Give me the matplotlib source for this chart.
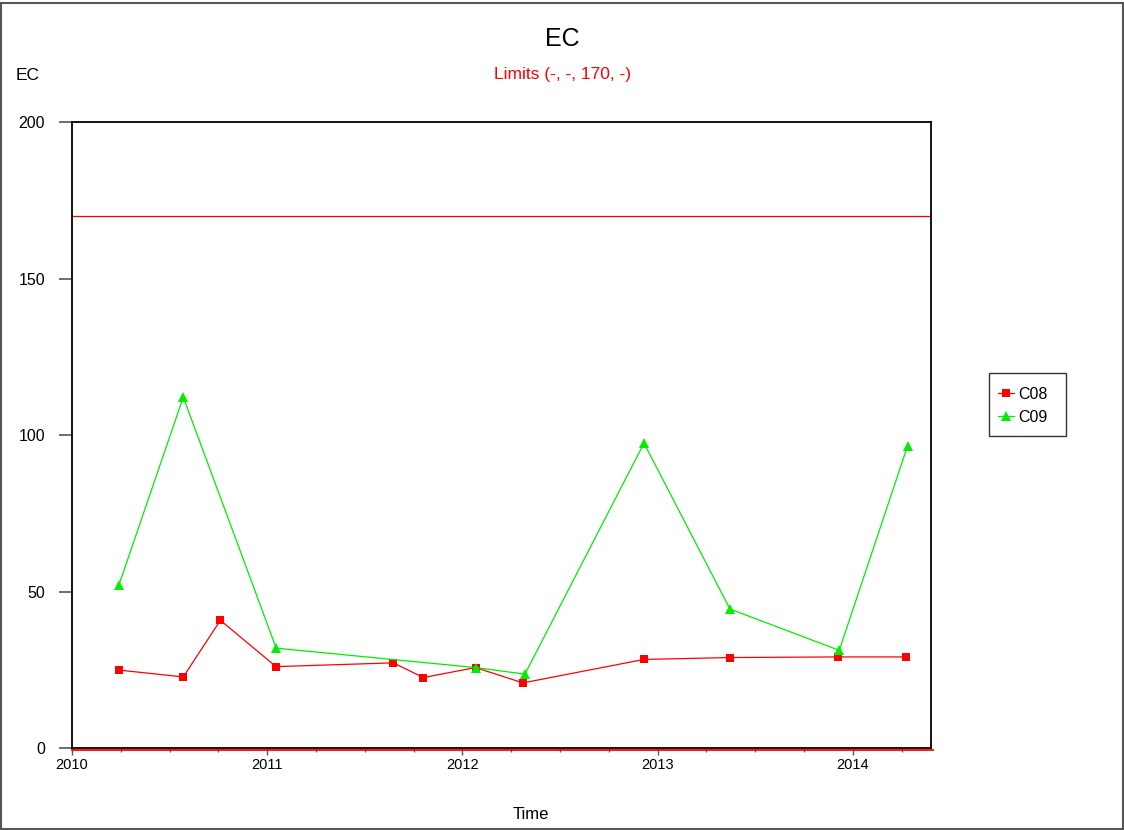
import matplotlib
matplotlib.use('Agg')
import matplotlib.pyplot as plt
from matplotlib.ticker import MultipleLocator
from matplotlib.patches import Rectangle
from matplotlib.transforms import offset_copy

plt.rcParams['font.family'] = ['Liberation Sans', 'DejaVu Sans']

# sample times as decimal years
c08_time = [2010.24, 2010.57, 2010.76, 2011.045, 2011.646, 2011.80,
            2012.067, 2012.31, 2012.93, 2013.37, 2013.925, 2014.27]
c08_ec = [24.9, 22.7, 40.8, 26.0, 27.2, 22.5, 25.7, 20.8, 28.3, 28.9, 29.1, 29.1]

c09_time = [2010.24, 2010.57, 2011.046, 2012.067, 2012.32, 2012.93,
            2013.37, 2013.93, 2014.28]
c09_ec = [52.0, 112.1, 31.9, 25.7, 23.6, 97.4, 44.4, 31.2, 96.5]

limit_value = 170
ytick_values = [0, 50, 100, 150, 200]
xtick_values = [2010, 2011, 2012, 2013, 2014]

W, H = 1124, 830
fig = plt.figure(figsize=(W / 100, H / 100), dpi=100)

def px(x, y):
    return x / W, 1 - y / H

# figure frame
fig.patches.append(Rectangle((0.001, 0.001), 0.998, 0.995, transform=fig.transFigure,
                             fill=False, edgecolor='#555555', linewidth=1.5))

ax = fig.add_axes([72 / W, 1 - 748 / H, (931 - 72) / W, (748 - 122) / H])

ax.plot(c08_time, c08_ec, color='#ff0000', linewidth=0.9, marker='s',
        markersize=6, markeredgewidth=0, label='C08', zorder=3)
ax.plot(c09_time, c09_ec, color='#00ee00', linewidth=0.9, marker='^',
        markersize=7.5, markeredgewidth=0, label='C09', zorder=3)

# limit lines (the zero one sits just under the bottom spine)
ax.axhline(limit_value, color='#ff0000', linewidth=0.9, zorder=2)
low = offset_copy(ax.get_yaxis_transform(), fig=fig, y=-1.8, units='dots')
ax.plot([0, 1.002], [0, 0], color='#ff0000', linewidth=1.3, transform=low,
        clip_on=False, zorder=4)

ax.set_xlim(2010.0, 2014.40)
ax.set_ylim(0, 200)
ax.set_yticks(ytick_values)
ax.set_xticks(xtick_values)
ax.xaxis.set_minor_locator(MultipleLocator(0.25))

for s in ax.spines.values():
    s.set_linewidth(1.3)
    s.set_color('black')

ax.tick_params(axis='y', direction='out', length=9.5, width=1.2, color='#555555',
               labelsize=11.5, pad=10)
ax.tick_params(axis='x', which='major', direction='out', length=5, width=1,
               color='#555555', labelsize=10.5, pad=2)
ax.tick_params(axis='x', which='minor', direction='out', length=3, width=1,
               color='#555555')

# titles and labels
fig.text(*px(562, 39), 'EC', fontsize=18, ha='center', va='center')
fig.text(*px(562, 75), 'Limits (-, -, 170, -)', fontsize=12.5, color='#ff0000',
         ha='center', va='center')
fig.text(*px(28, 75), 'EC', fontsize=12.5, ha='center', va='center')
fig.text(*px(531, 814), 'Time', fontsize=12, ha='center', va='center')

# legend box drawn separately, it is wider than the entries
x0, y0 = px(989, 436)
x1, y1 = px(1066, 373)
fig.patches.append(Rectangle((x0, y0), x1 - x0, y1 - y0, transform=fig.transFigure,
                             fill=False, edgecolor='#333333', linewidth=1.0))
ax.legend(loc='upper left', bbox_to_anchor=px(989, 378), bbox_transform=fig.transFigure,
          fontsize=11.5, frameon=False, handlelength=1.0, handletextpad=0.3,
          borderpad=0.55, labelspacing=0.5, borderaxespad=0)

fig.savefig('out.png', dpi=100)
